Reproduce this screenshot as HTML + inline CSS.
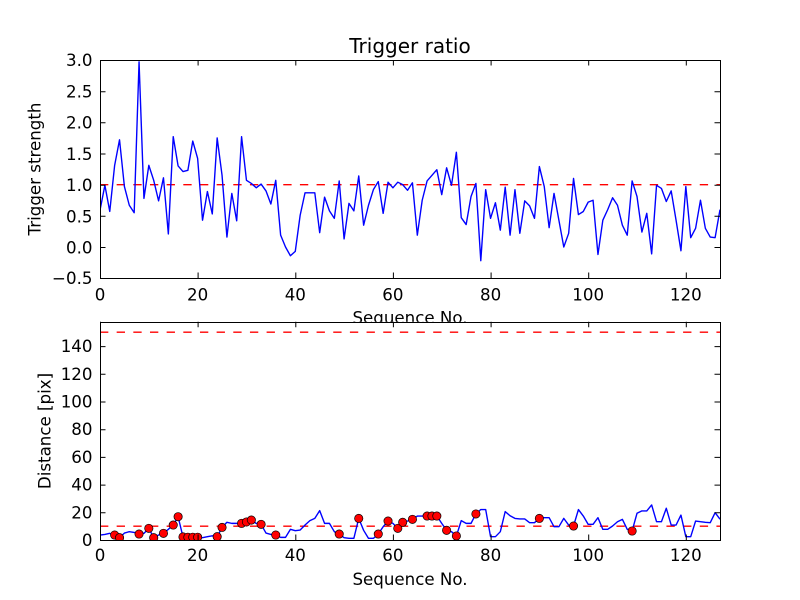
<!DOCTYPE html>
<html><head><meta charset="utf-8"><style>
html,body{margin:0;padding:0;background:#fff;}
svg{display:block;}
text{font-family:"DejaVu Sans","Liberation Sans",sans-serif;fill:#000;}
</style></head><body>
<svg width="800" height="600" viewBox="0 0 800 600" xmlns="http://www.w3.org/2000/svg">
<defs>
<clipPath id="c1"><rect x="100" y="60" width="620" height="218.18"/></clipPath>
<clipPath id="c2"><rect x="100" y="321.82" width="620" height="218.18"/></clipPath>
</defs>
<rect x="0" y="0" width="800" height="600" fill="#fff"/>

<!-- ===== TOP AXES ===== -->
<rect x="100" y="60" width="620" height="218.18" fill="#fff"/>
<g clip-path="url(#c1)">
<line x1="100" y1="184.68" x2="720" y2="184.68" stroke="#ff0000" stroke-width="1.39" stroke-dasharray="8.33,8.33"/>
<g transform="translate(100 247.014) scale(4.88189 -62.338)">
<polyline fill="none" stroke="#0000ff" stroke-width="1.39" stroke-linejoin="round" vector-effect="non-scaling-stroke" points="0,0.59 1,0.99 2,0.57 3,1.31 4,1.72 5,0.97 6,0.67 7,0.55 8,2.97 9,0.78 10,1.31 11,1.07 12,0.74 13,1.11 14,0.21 15,1.77 16,1.30 17,1.21 18,1.23 19,1.70 20,1.42 21,0.43 22,0.89 23,0.53 24,1.75 25,1.15 26,0.16 27,0.86 28,0.42 29,1.77 30,1.07 31,1.02 32,0.95 33,1.01 34,0.90 35,0.69 36,1.07 37,0.19 38,0.00 39,-0.14 40,-0.07 41,0.51 42,0.87 43,0.87 44,0.87 45,0.23 46,0.80 47,0.58 48,0.46 49,1.06 50,0.13 51,0.70 52,0.58 53,1.14 54,0.35 55,0.67 56,0.92 57,1.05 58,0.54 59,1.04 60,0.95 61,1.04 62,1.00 63,0.91 64,1.03 65,0.19 66,0.75 67,1.06 68,1.15 69,1.24 70,0.84 71,1.27 72,0.99 73,1.52 74,0.47 75,0.36 76,0.81 77,1.02 78,-0.22 79,0.92 80,0.46 81,0.71 82,0.27 83,0.96 84,0.19 85,0.92 86,0.22 87,0.74 88,0.66 89,0.46 90,1.29 91,0.97 92,0.31 93,0.86 94,0.43 95,0.00 96,0.22 97,1.10 98,0.52 99,0.57 100,0.72 101,0.75 102,-0.12 103,0.43 104,0.60 105,0.79 106,0.67 107,0.35 108,0.19 109,1.06 110,0.81 111,0.24 112,0.54 113,-0.11 114,0.99 115,0.94 116,0.73 117,0.90 118,0.43 119,-0.06 120,0.97 121,0.15 122,0.30 123,0.75 124,0.30 125,0.16 126,0.15 127,0.60"/>
</g>
</g>
<g stroke="#000" stroke-width="1">
<path d="M100.5,278 v-5.5 M198.1,278 v-5.5 M295.8,278 v-5.5 M393.4,278 v-5.5 M491.1,278 v-5.5 M588.7,278 v-5.5 M686.3,278 v-5.5
M100.5,60 v5.5 M198.1,60 v5.5 M295.8,60 v5.5 M393.4,60 v5.5 M491.1,60 v5.5 M588.7,60 v5.5 M686.3,60 v5.5
M100,60.5 h5.5 M100,91.7 h5.5 M100,122.8 h5.5 M100,154 h5.5 M100,185.2 h5.5 M100,216.3 h5.5 M100,247.5 h5.5
M720,60.5 h-5.5 M720,91.7 h-5.5 M720,122.8 h-5.5 M720,154 h-5.5 M720,185.2 h-5.5 M720,216.3 h-5.5 M720,247.5 h-5.5"/>
</g>
<rect x="100.5" y="60.5" width="620" height="218" fill="none" stroke="#000" stroke-width="1"/>
<g font-size="16.67" text-anchor="end">
<text x="92.5" y="66">3.0</text>
<text x="92.5" y="97.3">2.5</text>
<text x="92.5" y="128.5">2.0</text>
<text x="92.5" y="159.8">1.5</text>
<text x="92.5" y="191">1.0</text>
<text x="92.5" y="222.3">0.5</text>
<text x="92.5" y="253.5">0.0</text>
<text x="92.5" y="284.2">−0.5</text>
</g>
<g font-size="16.67" text-anchor="middle">
<text x="100" y="300.5">0</text>
<text x="197.6" y="300.5">20</text>
<text x="295.3" y="300.5">40</text>
<text x="392.9" y="300.5">60</text>
<text x="490.6" y="300.5">80</text>
<text x="588.2" y="300.5">100</text>
<text x="685.8" y="300.5">120</text>
</g>
<text x="410" y="53" font-size="20" text-anchor="middle">Trigger ratio</text>
<text x="410" y="323.5" font-size="16.67" text-anchor="middle">Sequence No.</text>
<text transform="translate(40.5 169) rotate(-90)" font-size="16.67" text-anchor="middle">Trigger strength</text>

<!-- ===== BOTTOM AXES ===== -->
<rect x="100" y="321.82" width="620" height="218.18" fill="#fff"/>
<g clip-path="url(#c2)">
<line x1="100" y1="332.2" x2="720" y2="332.2" stroke="#ff0000" stroke-width="1.39" stroke-dasharray="8.33,8.33"/>
<line x1="100" y1="526.15" x2="720" y2="526.15" stroke="#ff0000" stroke-width="1.39" stroke-dasharray="8.33,8.33"/>
<g transform="translate(100 540) scale(4.88189 -1.38527)">
<polyline fill="none" stroke="#0000ff" stroke-width="1.39" stroke-linejoin="round" vector-effect="non-scaling-stroke" points="0,3.6 1,4 2,4.8 3,3.6 4,1.7 5,5 6,6 7,5.5 8,4.3 9,4.8 10,8.4 11,1.7 12,3.6 13,4.8 14,7.7 15,10.8 16,16.8 17,2.2 18,2.0 19,2.0 20,2.0 21,1.7 22,2.4 23,3 24,2.4 25,9.1 26,12.8 27,12 28,12 29,12 30,13 31,14.4 32,12 33,11.3 34,5 35,4 36,3.6 37,1.9 38,1.9 39,7.7 40,6.7 41,7.2 42,10.8 43,14 44,15.6 45,21.2 46,12 47,12 48,6 49,4.3 50,1.7 51,1.2 52,1.2 53,15.6 54,7 55,1.2 56,1.2 57,4.3 58,9.6 59,13.7 60,12 61,8.4 62,12.8 63,13.7 64,14.9 65,17.3 66,17.3 67,17.3 68,17.3 69,17.3 70,12 71,7 72,6 73,2.9 74,14 75,12 76,12 77,18.8 78,22 79,22 80,2.4 81,2.4 82,6 83,20.5 84,17.5 85,15.6 86,15.2 87,15.2 88,12.5 89,12.5 90,15.6 91,16.1 92,16.1 93,9.6 94,9.6 95,15.6 96,10.8 97,10.1 98,22 99,17.3 100,11.3 101,11.3 102,16.1 103,7.7 104,7.7 105,10.1 106,13.2 107,14.9 108,7.7 109,6.5 110,19.3 111,21 112,21 113,25.3 114,13.2 115,13.2 116,22.9 117,10.8 118,10.8 119,18 120,2.4 121,2.4 122,13.7 123,13.2 124,12.8 125,12.5 126,19.7 127,15"/>
</g>
<g fill="#ff0000" stroke="#000" stroke-width="0.7">
<circle cx="114.65" cy="535.01" r="4.17"/>
<circle cx="119.53" cy="537.65" r="4.17"/>
<circle cx="139.06" cy="534.04" r="4.17"/>
<circle cx="148.82" cy="528.36" r="4.17"/>
<circle cx="153.70" cy="537.65" r="4.17"/>
<circle cx="163.46" cy="533.35" r="4.17"/>
<circle cx="173.23" cy="525.04" r="4.17"/>
<circle cx="178.11" cy="516.73" r="4.17"/>
<circle cx="182.99" cy="536.95" r="4.17"/>
<circle cx="187.87" cy="537.23" r="4.17"/>
<circle cx="192.76" cy="537.23" r="4.17"/>
<circle cx="197.64" cy="537.23" r="4.17"/>
<circle cx="217.17" cy="536.68" r="4.17"/>
<circle cx="222.05" cy="527.39" r="4.17"/>
<circle cx="241.58" cy="523.38" r="4.17"/>
<circle cx="246.46" cy="521.99" r="4.17"/>
<circle cx="251.34" cy="520.05" r="4.17"/>
<circle cx="261.10" cy="524.35" r="4.17"/>
<circle cx="275.75" cy="535.01" r="4.17"/>
<circle cx="339.21" cy="534.04" r="4.17"/>
<circle cx="358.74" cy="518.39" r="4.17"/>
<circle cx="378.27" cy="534.04" r="4.17"/>
<circle cx="388.03" cy="521.02" r="4.17"/>
<circle cx="397.80" cy="528.36" r="4.17"/>
<circle cx="402.68" cy="522.27" r="4.17"/>
<circle cx="412.44" cy="519.36" r="4.17"/>
<circle cx="427.09" cy="516.03" r="4.17"/>
<circle cx="431.97" cy="516.03" r="4.17"/>
<circle cx="436.85" cy="516.03" r="4.17"/>
<circle cx="446.61" cy="530.30" r="4.17"/>
<circle cx="456.38" cy="535.98" r="4.17"/>
<circle cx="475.91" cy="513.96" r="4.17"/>
<circle cx="539.37" cy="518.39" r="4.17"/>
<circle cx="573.54" cy="526.01" r="4.17"/>
<circle cx="632.13" cy="531.00" r="4.17"/>
</g>
</g>
<g stroke="#000" stroke-width="1">
<path d="M100.5,540 v-5.5 M198.1,540 v-5.5 M295.8,540 v-5.5 M393.4,540 v-5.5 M491.1,540 v-5.5 M588.7,540 v-5.5 M686.3,540 v-5.5
M100.5,321.8 v5.5 M198.1,321.8 v5.5 M295.8,321.8 v5.5 M393.4,321.8 v5.5 M491.1,321.8 v5.5 M588.7,321.8 v5.5 M686.3,321.8 v5.5
M100,512.8 h5.5 M100,485.1 h5.5 M100,457.4 h5.5 M100,429.7 h5.5 M100,402 h5.5 M100,374.3 h5.5 M100,346.6 h5.5
M720,512.8 h-5.5 M720,485.1 h-5.5 M720,457.4 h-5.5 M720,429.7 h-5.5 M720,402 h-5.5 M720,374.3 h-5.5 M720,346.6 h-5.5"/>
</g>
<rect x="100.5" y="322.5" width="620" height="218" fill="none" stroke="#000" stroke-width="1"/>
<g font-size="16.67" text-anchor="end">
<text x="92.5" y="546">0</text>
<text x="92.5" y="518.3">20</text>
<text x="92.5" y="490.6">40</text>
<text x="92.5" y="462.9">60</text>
<text x="92.5" y="435.2">80</text>
<text x="92.5" y="407.5">100</text>
<text x="92.5" y="379.8">120</text>
<text x="92.5" y="352.1">140</text>
</g>
<g font-size="16.67" text-anchor="middle">
<text x="100" y="561">0</text>
<text x="197.6" y="561">20</text>
<text x="295.3" y="561">40</text>
<text x="392.9" y="561">60</text>
<text x="490.6" y="561">80</text>
<text x="588.2" y="561">100</text>
<text x="685.8" y="561">120</text>
</g>
<text x="410" y="585" font-size="16.67" text-anchor="middle">Sequence No.</text>
<text transform="translate(50.5 431) rotate(-90)" font-size="16.67" text-anchor="middle">Distance [pix]</text>
</svg>
</body></html>
